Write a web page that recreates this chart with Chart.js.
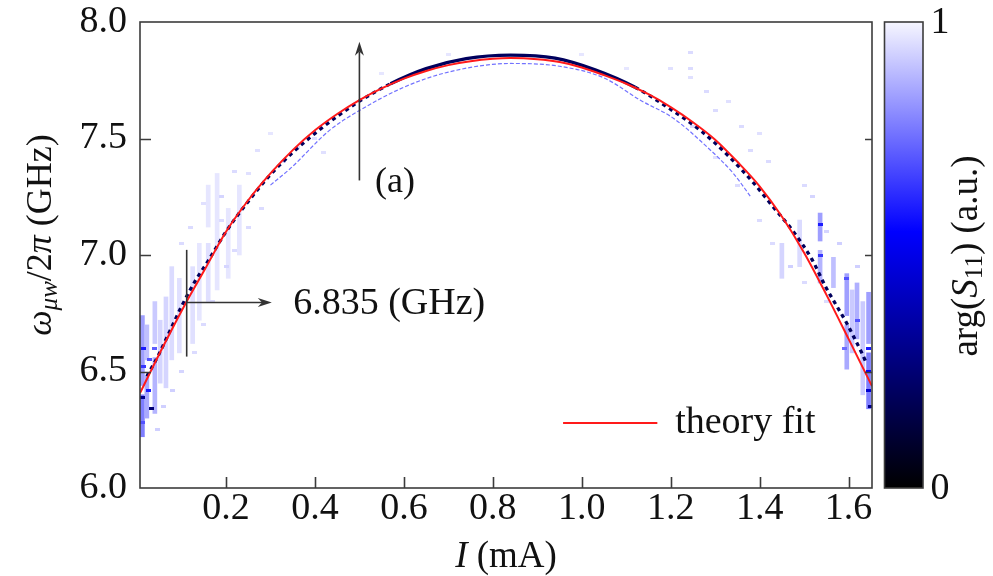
<!DOCTYPE html>
<html>
<head>
<meta charset="utf-8">
<title>Resonance vs bias current</title>
<script src="https://cdn.jsdelivr.net/npm/chart.js@4.4.0/dist/chart.umd.min.js"></script>
<style>
  html, body { margin: 0; padding: 0; background: #fff; }
  #wrap { width: 993px; height: 576px; }
</style>
</head>
<body>
<div id="wrap"><canvas id="resonanceChart" width="993" height="576"></canvas></div>
<script>
// Axis tick values
const xTickValues = [0.2, 0.4, 0.6, 0.8, 1.0, 1.2, 1.4, 1.6];
const yTickValues = [6.0, 6.5, 7.0, 7.5, 8.0];

// Theory fit (red curve): bias current I (mA) -> frequency (GHz)
const fitI = [0.0066, 0.05, 0.11, 0.15, 0.20, 0.25, 0.30, 0.35, 0.40, 0.45, 0.50, 0.55, 0.60, 0.65,
              0.70, 0.75, 0.80, 0.84, 0.90, 0.95, 1.00, 1.05, 1.10, 1.15, 1.20, 1.25, 1.30, 1.35,
              1.40, 1.45, 1.50, 1.55, 1.60, 1.6527];
const fitF = [6.407, 6.575, 6.795, 6.93, 7.10, 7.235, 7.35, 7.45, 7.535, 7.605, 7.665, 7.715, 7.757, 7.79,
              7.815, 7.832, 7.842, 7.845, 7.840, 7.828, 7.805, 7.772, 7.735, 7.69, 7.635, 7.57, 7.495, 7.40,
              7.295, 7.165, 7.01, 6.83, 6.64, 6.437];

// Measured resonance ridge (darkest cells of the arg(S11) map)
const ridgeI = [0.022, 0.048, 0.070, 0.100, 0.130, 0.160, 0.200, 0.250, 0.300, 0.350, 0.400, 0.450,
                0.500, 0.570, 0.650, 0.740, 0.840, 0.940, 1.030, 1.120, 1.200, 1.270, 1.330, 1.386,
                1.431, 1.476, 1.518, 1.548, 1.574, 1.596, 1.615, 1.630, 1.640];
const ridgeF = [6.479, 6.57, 6.658, 6.779, 6.886, 6.975, 7.10, 7.23, 7.345, 7.44, 7.522, 7.595,
                7.66, 7.735, 7.80, 7.843, 7.858, 7.845, 7.795, 7.72, 7.625, 7.53, 7.425, 7.31,
                7.205, 7.10, 6.98, 6.865, 6.779, 6.707, 6.636, 6.579, 6.536];

// Weaker second branch just below the main ridge
const lowerI = [0.30, 0.344, 0.434, 0.50, 0.60, 0.70, 0.84, 0.95, 1.05, 1.131, 1.206, 1.281, 1.341, 1.38];
const lowerF = [7.30, 7.37, 7.537, 7.62, 7.72, 7.785, 7.822, 7.81, 7.76, 7.665, 7.587, 7.465, 7.35, 7.25];

// Noisy columns of the map: [I, f low, f high, arg level]
const streaks = [
  [0.012, 6.22, 6.40, 0.78], [0.012, 6.44, 6.74, 0.84], [0.022, 6.30, 6.48, 0.86],
  [0.022, 6.55, 6.70, 0.90], [0.040, 6.32, 6.56, 0.88], [0.040, 6.62, 6.80, 0.92],
  [0.052, 6.45, 6.72, 0.94], [0.065, 6.43, 6.82, 0.94], [0.078, 6.55, 6.95, 0.95],
  [0.095, 6.58, 6.90, 0.96], [0.125, 6.62, 6.95, 0.96], [0.140, 6.72, 7.05, 0.97],
  [0.160, 6.80, 7.05, 0.96], [0.160, 7.12, 7.30, 0.97], [0.180, 6.85, 7.35, 0.97],
  [0.205, 6.90, 7.20, 0.97], [0.230, 7.00, 7.30, 0.97],
  [1.450, 6.90, 7.05, 0.94], [1.490, 6.95, 7.15, 0.95], [1.536, 6.88, 7.02, 0.88],
  [1.536, 7.06, 7.18, 0.84], [1.566, 6.86, 6.99, 0.90], [1.596, 6.51, 6.70, 0.86],
  [1.596, 6.74, 6.92, 0.84], [1.608, 6.58, 6.85, 0.92], [1.619, 6.64, 6.88, 0.87],
  [1.632, 6.40, 6.80, 0.92], [1.645, 6.34, 6.58, 0.78], [1.645, 6.62, 6.84, 0.84]
];

// Isolated map cells: [I, f, arg level]
const cells = [
  [0.033, 6.343, 0.25], [0.012, 6.39, 0.30], [1.649, 6.35, 0.30], [1.645, 6.42, 0.45],
  [0.015, 6.60, 0.60], [0.015, 6.52, 0.65], [0.028, 6.55, 0.70], [0.040, 6.60, 0.72],
  [0.012, 6.28, 0.70], [0.025, 6.42, 0.60], [1.536, 7.13, 0.60], [1.536, 7.00, 0.65],
  [1.596, 6.90, 0.70], [1.620, 6.72, 0.70], [1.645, 6.60, 0.60], [1.645, 6.50, 0.55],
  [1.590, 6.60, 0.75],
  [0.10, 7.05, 0.95], [0.12, 7.12, 0.95], [0.15, 7.22, 0.96], [0.19, 7.25, 0.94],
  [0.19, 7.15, 0.95], [0.22, 7.36, 0.95], [0.25, 7.35, 0.96], [0.27, 7.45, 0.96],
  [0.30, 7.52, 0.97], [0.33, 7.40, 0.95], [0.36, 7.46, 0.95], [0.40, 7.50, 0.96],
  [0.42, 7.44, 0.96], [0.28, 7.20, 0.95], [0.25, 7.12, 0.95], [0.22, 7.02, 0.95],
  [0.20, 6.95, 0.94], [0.17, 6.80, 0.95], [0.15, 6.70, 0.95], [0.13, 6.58, 0.95],
  [0.10, 6.50, 0.94], [0.08, 6.42, 0.93], [0.06, 6.35, 0.93], [0.045, 6.25, 0.93],
  [1.20, 7.80, 0.96], [1.245, 7.87, 0.95], [1.245, 7.80, 0.95], [1.245, 7.76, 0.96],
  [1.28, 7.70, 0.95], [1.30, 7.62, 0.95], [1.33, 7.66, 0.96], [1.36, 7.55, 0.95],
  [1.38, 7.45, 0.95], [1.40, 7.52, 0.96], [1.42, 7.40, 0.95], [1.25, 7.55, 0.95],
  [1.30, 7.42, 0.96], [1.35, 7.30, 0.95], [1.40, 7.15, 0.95], [1.43, 7.05, 0.95],
  [1.47, 6.95, 0.93], [1.50, 7.30, 0.95], [1.52, 7.25, 0.94], [1.55, 7.10, 0.94],
  [1.58, 7.05, 0.93], [1.62, 6.95, 0.93], [1.55, 6.80, 0.95], [1.50, 6.88, 0.95],
  [0.55, 7.78, 0.97], [0.70, 7.86, 0.97], [1.00, 7.86, 0.97], [1.10, 7.80, 0.97]
];

const SERIF = 'Liberation Serif';
const font = (size, style) => (style ? style + ' ' : '') + size + 'px "' + SERIF + '"';

// colour map used by the map and the colour bar: black -> blue -> white
const cmapStops = [[0, [0, 0, 0]], [0.55, [0, 0, 255]], [1, [246, 246, 255]]];
function argColor(level) {
  for (let i = 1; i < cmapStops.length; i++) {
    const [p1, c1] = cmapStops[i];
    const [p0, c0] = cmapStops[i - 1];
    if (level <= p1) {
      const t = (level - p0) / (p1 - p0);
      const c = c0.map((v, k) => Math.round(v + (c1[k] - v) * t));
      return 'rgb(' + c.join(',') + ')';
    }
  }
  return 'rgb(246,246,255)';
}

const cellCache = {};
function cellImage(level) {
  const key = level.toFixed(2);
  if (!cellCache[key]) {
    const c = document.createElement('canvas');
    c.width = 5; c.height = 3;
    const g = c.getContext('2d');
    g.fillStyle = argColor(level);
    g.fillRect(0, 0, 5, 3);
    cellCache[key] = c;
  }
  return cellCache[key];
}

const toPoints = (xs, ys) => xs.map((x, i) => ({ x: x, y: ys[i] }));

// draws a line with a filled arrow head at (x1, y1)
function arrow(ctx, x0, y0, x1, y1) {
  const ang = Math.atan2(y1 - y0, x1 - x0);
  const len = 14, half = 4.5;
  ctx.beginPath();
  ctx.moveTo(x0, y0);
  ctx.lineTo(x1 - len * 0.7 * Math.cos(ang), y1 - len * 0.7 * Math.sin(ang));
  ctx.stroke();
  ctx.beginPath();
  ctx.moveTo(x1, y1);
  ctx.lineTo(x1 - len * Math.cos(ang) + half * Math.sin(ang), y1 - len * Math.sin(ang) - half * Math.cos(ang));
  ctx.lineTo(x1 - len * 0.7 * Math.cos(ang), y1 - len * 0.7 * Math.sin(ang));
  ctx.lineTo(x1 - len * Math.cos(ang) - half * Math.sin(ang), y1 - len * Math.sin(ang) + half * Math.cos(ang));
  ctx.closePath();
  ctx.fill();
}

// writes a list of [text, font, dy] runs one after another, returns total width
function runs(ctx, parts, x, y, measureOnly) {
  let w = 0;
  parts.forEach(([txt, f, dy]) => {
    ctx.font = f;
    if (!measureOnly) ctx.fillText(txt, x + w, y + (dy || 0));
    w += ctx.measureText(txt).width;
  });
  return w;
}

const overlay = {
  id: 'overlay',
  afterDraw(chart) {
    const { ctx, chartArea: a, scales: { x, y } } = chart;
    ctx.save();

    // frame and inward ticks
    ctx.strokeStyle = '#3c3c3c';
    ctx.lineWidth = 1.6;
    ctx.strokeRect(a.left, a.top, a.right - a.left, a.bottom - a.top);
    ctx.beginPath();
    xTickValues.forEach(v => {
      const px = Math.round(x.getPixelForValue(v)) + 0.5;
      ctx.moveTo(px, a.bottom); ctx.lineTo(px, a.bottom - 11);
    });
    yTickValues.slice(1, -1).forEach(v => {
      const py = Math.round(y.getPixelForValue(v)) + 0.5;
      ctx.moveTo(a.left, py); ctx.lineTo(a.left + 11, py);
      ctx.moveTo(a.right, py); ctx.lineTo(a.right - 7, py);
    });
    ctx.stroke();

    // annotations
    ctx.strokeStyle = '#333';
    ctx.fillStyle = '#333';
    ctx.lineWidth = 1.6;
    arrow(ctx, x.getPixelForValue(0.5), y.getPixelForValue(7.32), x.getPixelForValue(0.5), y.getPixelForValue(7.915));
    const lx = x.getPixelForValue(0.1116);
    ctx.beginPath();
    ctx.moveTo(lx, y.getPixelForValue(6.564));
    ctx.lineTo(lx, y.getPixelForValue(7.022));
    ctx.stroke();
    arrow(ctx, lx, y.getPixelForValue(6.796), x.getPixelForValue(0.303), y.getPixelForValue(6.796));

    ctx.fillStyle = '#111';
    ctx.textBaseline = 'middle';
    ctx.textAlign = 'left';
    ctx.font = font(36);
    ctx.fillText('(a)', x.getPixelForValue(0.535), y.getPixelForValue(7.313));
    ctx.font = font(38);
    ctx.fillText('6.835 (GHz)', x.getPixelForValue(0.351), y.getPixelForValue(6.79));

    // legend entry for the fit
    const ly = y.getPixelForValue(6.279);
    ctx.strokeStyle = '#ff1a1a';
    ctx.lineWidth = 1.8;
    ctx.beginPath();
    ctx.moveTo(x.getPixelForValue(0.958), ly);
    ctx.lineTo(x.getPixelForValue(1.17), ly);
    ctx.stroke();
    ctx.font = font(38);
    ctx.fillText('theory fit', x.getPixelForValue(1.21), ly);

    // x axis title
    const xParts = [['I', font(37, 'italic')], [' (mA)', font(37)]];
    const xw = runs(ctx, xParts, 0, 0, true);
    runs(ctx, xParts, (a.left + a.right) / 2 - xw / 2, 557);

    // y axis title, rotated
    const yParts = [
      ['\u03C9', font(36, 'italic')],
      ['\u03BCw', font(25, 'italic'), 8],
      ['/2', font(36)],
      ['\u03C0', font(36, 'italic')],
      [' (GHz)', font(36)]
    ];
    const yw = runs(ctx, yParts, 0, 0, true);
    ctx.save();
    ctx.translate(42, 235);
    ctx.rotate(-Math.PI / 2);
    runs(ctx, yParts, -yw / 2, 0);
    ctx.restore();

    // colour bar
    const cbL = a.right + 12.5, cbW = 38.5;
    const grad = ctx.createLinearGradient(0, a.bottom, 0, a.top);
    cmapStops.forEach(([p, c]) => grad.addColorStop(p, 'rgb(' + c.join(',') + ')'));
    ctx.fillStyle = grad;
    ctx.fillRect(cbL, a.top, cbW, a.bottom - a.top);
    ctx.strokeStyle = '#3c3c3c';
    ctx.lineWidth = 1.6;
    ctx.strokeRect(cbL, a.top, cbW, a.bottom - a.top);
    ctx.fillStyle = '#111';
    ctx.font = font(38);
    ctx.fillText('1', cbL + 46, a.top + 1);
    ctx.fillText('0', cbL + 46, a.bottom + 1);

    const cParts = [
      ['arg(', font(37)],
      ['S', font(37, 'italic')],
      ['11', font(25), 8],
      [') (a.u.)', font(37)]
    ];
    const cw = runs(ctx, cParts, 0, 0, true);
    ctx.save();
    ctx.translate(967, 256);
    ctx.rotate(-Math.PI / 2);
    runs(ctx, cParts, -cw / 2, 0);
    ctx.restore();

    ctx.restore();
  }
};

function buildChart() {
  const ctx = document.getElementById('resonanceChart');
  new Chart(ctx, {
    data: {
      datasets: [
        {
          type: 'line',
          label: 'theory fit',
          data: toPoints(fitI, fitF),
          borderColor: '#ff1a1a',
          borderWidth: 2,
          pointRadius: 0,
          cubicInterpolationMode: 'monotone',
          order: 0
        },
        {
          type: 'line',
          label: 'ridge',
          data: toPoints(ridgeI, ridgeF),
          borderColor: argColor(0.2),
          borderWidth: 3.3,
          pointRadius: 0,
          cubicInterpolationMode: 'monotone',
          segment: {
            borderDash: c => Math.abs((c.p1.y - c.p0.y) / (c.p1.x - c.p0.x)) > 0.55 ? [4, 4] : undefined
          },
          order: 1
        },
        {
          type: 'line',
          label: 'second branch',
          data: toPoints(lowerI, lowerF),
          borderColor: argColor(0.76),
          borderWidth: 1.2,
          borderDash: [4, 2],
          pointRadius: 0,
          cubicInterpolationMode: 'monotone',
          order: 2
        },
        {
          type: 'scatter',
          label: 'cells',
          data: cells.map(c => ({ x: c[0], y: c[1], level: c[2] })),
          pointStyle: c => cellImage(c.raw ? c.raw.level : 1),
          pointRadius: 3,
          order: 3
        },
        {
          type: 'bar',
          label: 'columns',
          data: streaks.map(s => ({ x: s[0], y: [s[1], s[2]], level: s[3] })),
          backgroundColor: c => argColor(c.raw ? c.raw.level : 1),
          barThickness: 4,
          grouped: false,
          order: 4
        }
      ]
    },
    options: {
      responsive: false,
      animation: false,
      events: [],
      layout: { padding: { top: 22, right: 121, left: 0, bottom: 0 } },
      plugins: { legend: { display: false }, tooltip: { enabled: false } },
      scales: {
        x: {
          type: 'linear',
          offset: false,
          min: 0.0066,
          max: 1.6527,
          grid: { display: false, drawTicks: false, offset: false },
          border: { display: false },
          ticks: {
            font: { family: '"' + SERIF + '"', size: 38 },
            color: '#111',
            padding: -2,
            maxRotation: 0,
            callback: v => v.toFixed(1)
          },
          afterBuildTicks: s => { s.ticks = xTickValues.map(v => ({ value: v })); },
          afterFit: s => { s.height = 88; s.paddingLeft = 0; s.paddingRight = 0; }
        },
        y: {
          type: 'linear',
          min: 6,
          max: 8,
          grid: { display: false, drawTicks: false },
          border: { display: false },
          ticks: {
            font: { family: '"' + SERIF + '"', size: 38 },
            color: '#111',
            padding: 13,
            callback: v => v.toFixed(1)
          },
          afterBuildTicks: s => { s.ticks = yTickValues.map(v => ({ value: v })); },
          afterFit: s => { s.width = 140; s.paddingTop = 0; s.paddingBottom = 0; }
        }
      }
    },
    plugins: [overlay]
  });
}

buildChart();
</script>
</body>
</html>
